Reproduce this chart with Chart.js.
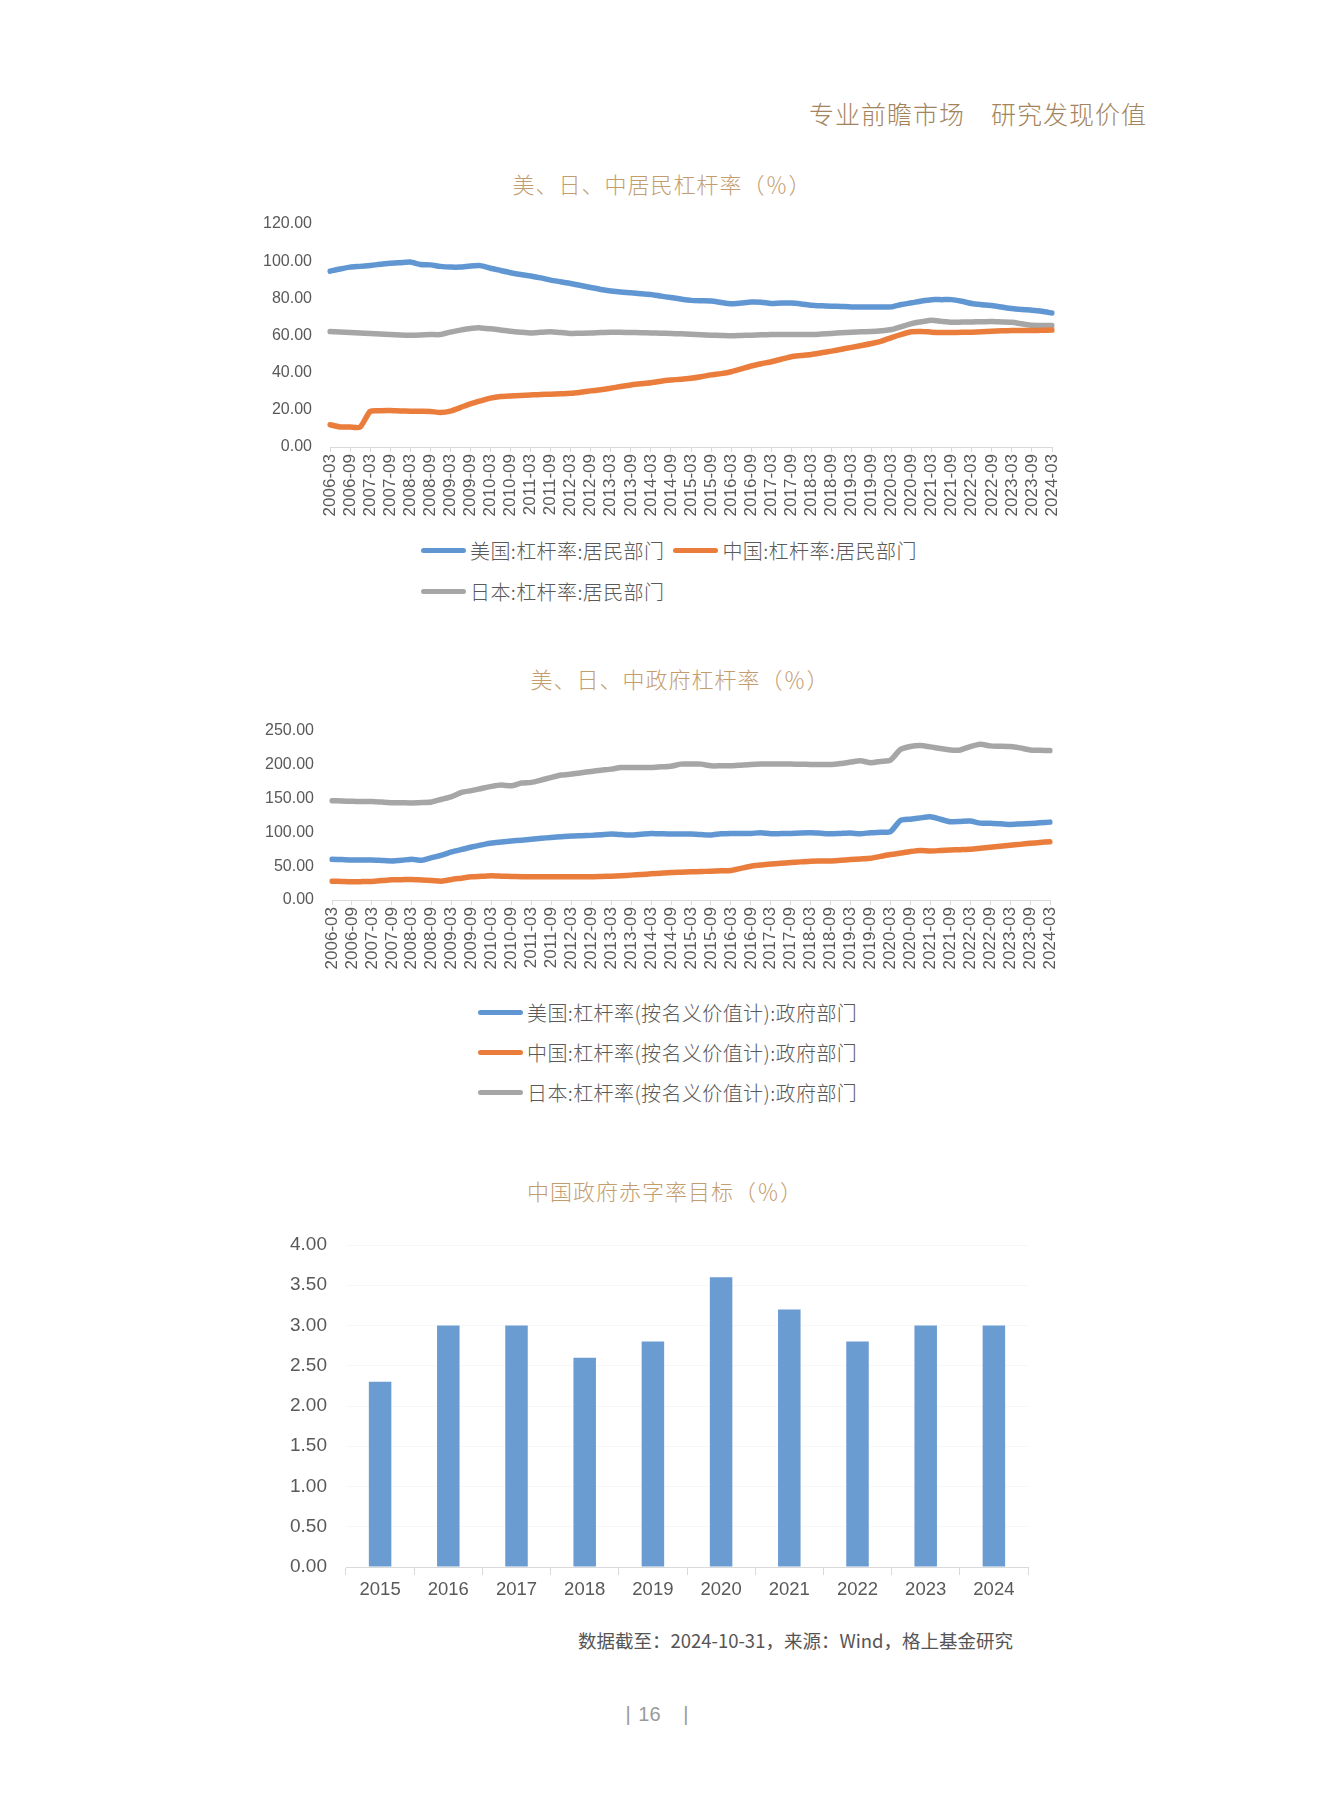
<!DOCTYPE html>
<html>
<head>
<meta charset="utf-8">
<script src="https://cdn.jsdelivr.net/npm/chart.js@4.4.1/dist/chart.umd.min.js"></script>
<style>
  html, body { margin: 0; padding: 0; background: #fff; }
  #page { position: relative; width: 1327px; height: 1797px; overflow: hidden; font-family: "Noto Sans CJK SC", "Liberation Sans", sans-serif; }
  .abs { position: absolute; }
  .header { right: 180px; top: 97px; font-size: 25px; line-height: 32px; color: #a4845c; font-weight: 300; letter-spacing: 1px; }
  .title { width: 600px; text-align: center; font-size: 22px; line-height: 30px; color: #c49d6f; font-weight: 300; letter-spacing: 1px; }
  .legend { font-size: 20px; color: #595959; font-weight: 300; letter-spacing: 0.4px; }
  .legend .item { display: inline-flex; align-items: center; height: 40px; margin-right: 9px; white-space: nowrap; }
  .legend .swatch { display: inline-block; width: 45px; height: 5px; border-radius: 3px; margin-right: 4px; }
  .footer { right: 314px; top: 1627px; font-size: 18.5px; line-height: 26px; color: #555; }
  .pageno { width: 200px; left: 557px; text-align: center; top: 1701px; font-size: 20px; line-height: 26px; color: #9a9a9a; font-family: "Liberation Sans", sans-serif; word-spacing: 2px; }
  canvas { position: absolute; }
</style>
</head>
<body>
<div id="page">
  <div class="abs header">专业前瞻市场　研究发现价值</div>

  <div class="abs title" style="left:362px; top:168px;">美、日、中居民杠杆率（％）</div>
  <canvas id="householdChart" width="840" height="322" style="left:240px; top:205px;"></canvas>
  <div class="abs legend" id="legend1" style="left:421px; top:530px; width:530px;"></div>

  <div class="abs title" style="left:380px; top:663px;">美、日、中政府杠杆率（％）</div>
  <canvas id="governmentChart" width="840" height="270" style="left:240px; top:710px;"></canvas>
  <div class="abs legend" id="legend2" style="left:478px; top:992px; width:420px;"></div>

  <div class="abs title" style="left:365px; top:1175px;">中国政府赤字率目标（％）</div>
  <canvas id="deficitChart" width="840" height="382" style="left:240px; top:1225px;"></canvas>

  <div class="abs footer">数据截至：2024-10-31，来源：Wind，格上基金研究</div>
  <div class="abs pageno">|&nbsp;16&nbsp;&nbsp;&nbsp;|</div>
</div>

<script>
// quarterly labels 2006-03 ... 2024-03
const quarterLabels = [];
for (let y = 2006; y <= 2024; y++) {
    for (const m of ['03', '06', '09', '12']) {
        if (y === 2024 && m !== '03') break;
        quarterLabels.push(y + '-' + m);
    }
}

// 居民部门
const usHousehold = [
    94.6, 95.8, 96.8, 97.2, 97.7, 98.3, 98.9, 99.2, 99.5, 98.2, 98.0, 97.2,
    96.8, 96.8, 97.4, 97.6, 96.2, 95.0, 93.8, 92.8, 92.0, 91.0, 89.8, 88.9,
    88.0, 86.9, 85.8, 84.8, 84.0, 83.4, 83.0, 82.5, 82.1, 81.2, 80.4, 79.6,
    78.9, 78.7, 78.6, 77.8, 77.1, 77.5, 78.0, 77.9, 77.2, 77.5, 77.5, 77.0,
    76.3, 76.0, 75.8, 75.6, 75.4, 75.4, 75.4, 75.4, 75.4, 76.7, 77.6, 78.6,
    79.3, 79.3, 79.3, 78.4, 77.2, 76.6, 76.1, 75.3, 74.5, 74.0, 73.6, 73.0,
    72.1
];
const cnHousehold = [
    12.0, 10.8, 10.7, 10.7, 19.1, 19.5, 19.6, 19.4, 19.3, 19.2, 19.1, 18.6,
    19.3, 21.2, 23.2, 24.8, 26.3, 27.2, 27.5, 27.7, 28.0, 28.3, 28.4, 28.6,
    28.9, 29.5, 30.2, 30.8, 31.6, 32.6, 33.4, 34.0, 34.6, 35.4, 36.0, 36.5,
    37.0, 37.8, 38.8, 39.5, 40.5, 42.0, 43.6, 44.8, 45.9, 47.2, 48.6, 49.2,
    49.8, 50.7, 51.6, 52.6, 53.6, 54.6, 55.7, 57.0, 58.9, 60.6, 62.0, 62.2,
    61.8, 61.6, 61.6, 61.7, 61.8, 62.0, 62.3, 62.5, 62.7, 62.7, 62.7, 62.8,
    62.9
];
const jpHousehold = [
    62.1, 61.9, 61.6, 61.3, 61.1, 60.8, 60.5, 60.3, 60.2, 60.3, 60.5, 60.5,
    61.8, 62.9, 63.8, 64.1, 63.6, 63.0, 62.3, 61.8, 61.4, 61.7, 62.0, 61.6,
    61.1, 61.2, 61.3, 61.6, 61.8, 61.7, 61.6, 61.5, 61.4, 61.2, 61.1, 60.9,
    60.7, 60.4, 60.2, 60.0, 59.8, 60.0, 60.2, 60.4, 60.5, 60.5, 60.5, 60.5,
    60.5, 60.8, 61.1, 61.5, 61.8, 62.0, 62.1, 62.5, 63.2, 64.8, 66.4, 67.4,
    68.2, 67.6, 67.1, 67.2, 67.3, 67.4, 67.5, 67.3, 67.1, 66.3, 65.5, 65.4,
    65.4
];

// 政府部门
const usGovernment = [
    60.3, 59.8, 59.3, 59.3, 59.3, 58.5, 57.8, 58.8, 60.3, 58.8, 62.7, 66.5,
    71.1, 74.8, 78.4, 81.5, 84.3, 85.8, 87.3, 88.5, 89.7, 91.2, 92.6, 93.6,
    94.6, 95.1, 95.6, 96.5, 97.5, 96.8, 96.1, 97.3, 98.5, 98.0, 97.5, 97.5,
    97.5, 96.8, 96.1, 98.0, 98.5, 98.5, 98.5, 99.5, 98.0, 98.2, 98.5, 99.2,
    99.5, 98.8, 98.0, 98.5, 99.0, 98.0, 99.5, 100.2, 101.0, 117.6, 119.6, 121.5,
    123.0, 119.5, 115.7, 116.2, 116.7, 113.7, 113.7, 112.8, 111.8, 112.5, 113.2, 114.2,
    115.2
];
const cnGovernment = [
    27.9, 27.4, 27.0, 27.2, 27.5, 28.7, 29.9, 30.1, 30.4, 29.6, 28.9, 27.9,
    30.4, 32.3, 34.3, 35.0, 35.8, 35.3, 34.8, 34.5, 34.3, 34.3, 34.3, 34.3,
    34.3, 34.3, 34.3, 34.8, 35.3, 36.0, 36.8, 37.7, 38.7, 39.7, 40.7, 41.2,
    41.7, 42.1, 42.6, 43.1, 43.6, 46.8, 50.0, 51.7, 53.4, 54.4, 55.4, 56.4,
    57.4, 57.6, 57.8, 58.8, 59.8, 60.8, 61.8, 64.5, 67.2, 69.4, 71.6, 73.2,
    72.5, 73.2, 74.0, 74.5, 75.0, 76.4, 77.9, 79.4, 80.9, 82.3, 83.8, 85.0,
    86.3
];
const jpGovernment = [
    147.0, 146.5, 146.0, 145.8, 145.6, 144.8, 144.0, 143.8, 143.6, 144.2, 145.0, 149.0,
    153.0, 159.3, 161.8, 165.0, 168.1, 170.0, 169.0, 173.0, 174.0, 177.5, 181.4, 184.8,
    186.3, 188.3, 190.2, 192.0, 193.6, 196.0, 196.0, 196.0, 196.0, 197.0, 198.0, 201.0,
    201.0, 201.0, 198.5, 198.5, 198.5, 199.5, 200.5, 201.0, 201.0, 201.0, 201.0, 200.8,
    200.5, 200.5, 200.5, 202.0, 204.0, 206.0, 203.0, 205.0, 207.0, 222.5, 227.0, 228.4,
    226.5, 224.0, 222.0, 222.0, 227.0, 230.4, 228.0, 227.5, 227.0, 225.0, 222.0, 221.5,
    221.0
];

// 赤字率目标
const deficitYears = ['2015', '2016', '2017', '2018', '2019', '2020', '2021', '2022', '2023', '2024'];
const deficitTargets = [2.3, 3.0, 3.0, 2.6, 2.8, 3.6, 3.2, 2.8, 3.0, 3.0];

const householdNames = ['美国:杠杆率:居民部门', '中国:杠杆率:居民部门', '日本:杠杆率:居民部门'];
const governmentNames = ['美国:杠杆率(按名义价值计):政府部门', '中国:杠杆率(按名义价值计):政府部门', '日本:杠杆率(按名义价值计):政府部门'];

const BLUE = '#6097d3';
const ORANGE = '#ea7d3c';
const GRAY = '#a6a6a6';
const AXIS = '#d9d9d9';
const TEXT = '#595959';
const CLEAR = 'rgba(0,0,0,0)';

Chart.defaults.font.family = '"Liberation Sans", "Noto Sans CJK SC", sans-serif';
Chart.defaults.color = TEXT;

function lineDataset(label, data, color) {
    return {
        label: label,
        data: data,
        borderColor: color,
        backgroundColor: color,
        borderWidth: 5.5,
        pointRadius: 0,
        tension: 0.2,
        borderCapStyle: 'round',
        borderJoinStyle: 'round'
    };
}

// label gap to the plot is done with an invisible tick, so it does not push the plot down
function lineOptions(yMax, yStep, yWidth, padding) {
    return {
        responsive: false,
        animation: false,
        layout: { padding: padding },
        plugins: { legend: { display: false }, tooltip: { enabled: false } },
        scales: {
            x: {
                offset: false,
                grid: {
                    drawOnChartArea: false,
                    drawTicks: true,
                    tickLength: 5,
                    color: (ctx) => (ctx.index % 2 === 0 ? AXIS : CLEAR)
                },
                border: { color: AXIS, width: 1 },
                ticks: {
                    autoSkip: false,
                    minRotation: 90,
                    maxRotation: 90,
                    padding: 2,
                    font: { size: 17 },
                    callback: function (val, idx) {
                        return idx % 2 === 0 ? this.getLabelForValue(val) : '';
                    }
                },
                afterFit: (s) => { s.height = 80; }
            },
            y: {
                min: 0,
                max: yMax,
                grid: { drawOnChartArea: false, drawTicks: true, tickLength: 18, tickColor: CLEAR, color: CLEAR },
                border: { display: false },
                ticks: {
                    stepSize: yStep,
                    padding: 0,
                    font: { size: 16 },
                    callback: (v) => Number(v).toFixed(2)
                },
                afterFit: (s) => { s.width = yWidth; }
            }
        }
    };
}

function buildLegend(el, names, colors, block) {
    names.forEach((n, i) => {
        const item = document.createElement('div');
        item.className = 'item';
        if (block) item.style.display = 'flex';
        const sw = document.createElement('span');
        sw.className = 'swatch';
        sw.style.background = colors[i];
        const tx = document.createElement('span');
        tx.textContent = n;
        item.appendChild(sw);
        item.appendChild(tx);
        el.appendChild(item);
    });
}

new Chart(document.getElementById('householdChart').getContext('2d'), {
    type: 'line',
    data: {
        labels: quarterLabels,
        datasets: [
            lineDataset(householdNames[0], usHousehold, BLUE),
            lineDataset(householdNames[1], cnHousehold, ORANGE),
            lineDataset(householdNames[2], jpHousehold, GRAY)
        ]
    },
    options: lineOptions(120, 20, 90, { top: 19, right: 28, bottom: 0, left: 0 })
});

new Chart(document.getElementById('governmentChart').getContext('2d'), {
    type: 'line',
    data: {
        labels: quarterLabels,
        datasets: [
            lineDataset(governmentNames[0], usGovernment, BLUE),
            lineDataset(governmentNames[1], cnGovernment, ORANGE),
            lineDataset(governmentNames[2], jpGovernment, GRAY)
        ]
    },
    options: lineOptions(250, 50, 92, { top: 21, right: 30, bottom: 0, left: 0 })
});

new Chart(document.getElementById('deficitChart').getContext('2d'), {
    type: 'bar',
    data: {
        labels: deficitYears,
        datasets: [{
            data: deficitTargets,
            backgroundColor: '#6a9bd1',
            barPercentage: 0.33,
            categoryPercentage: 1
        }]
    },
    options: {
        responsive: false,
        animation: false,
        layout: { padding: { top: 20, right: 52, bottom: 0, left: 0 } },
        plugins: { legend: { display: false }, tooltip: { enabled: false } },
        scales: {
            x: {
                grid: { drawOnChartArea: false, drawTicks: true, tickLength: 8, color: AXIS, offset: true },
                border: { color: AXIS },
                ticks: {
                    padding: 4,
                    font: { size: 18.5 }
                },
                afterFit: (s) => { s.height = 40; }
            },
            y: {
                min: 0,
                max: 4,
                grid: { color: '#f7f7f7', drawTicks: true, tickLength: 19, tickColor: CLEAR },
                border: { display: false },
                ticks: {
                    stepSize: 0.5,
                    padding: 0,
                    font: { size: 19 },
                    callback: (v) => Number(v).toFixed(2)
                },
                afterFit: (s) => { s.width = 106; }
            }
        }
    }
});

buildLegend(document.getElementById('legend1'), householdNames, [BLUE, ORANGE, GRAY], false);
buildLegend(document.getElementById('legend2'), governmentNames, [BLUE, ORANGE, GRAY], true);
</script>
</body>
</html>
